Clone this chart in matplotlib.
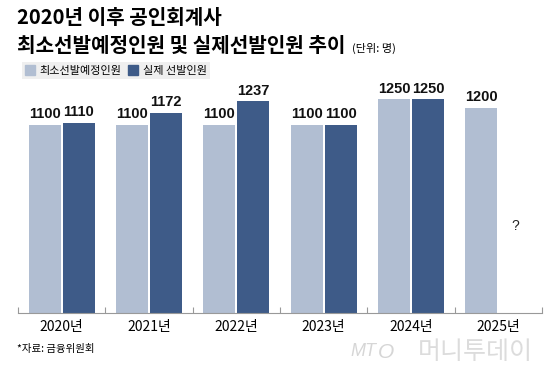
import numpy as np
import matplotlib.pyplot as plt
from matplotlib.patches import Patch

# chart data
years = ["2020년", "2021년", "2022년", "2023년", "2024년", "2025년"]
planned = [1100, 1100, 1100, 1100, 1250, 1200]
actual = [1110, 1172, 1237, 1100, 1250, None]

light = "#b1bed2"
dark = "#3e5b88"
KR = ["Noto Sans CJK KR", "DejaVu Sans"]
NUM = ["Liberation Sans Narrow", "Liberation Sans", "DejaVu Sans"]

plt.rcParams["font.family"] = KR

fig = plt.figure(figsize=(5.6, 3.77), dpi=100)
W, H = 560, 377
# axes placed in pixel terms: left 18, right 542, bottom 313, top 95
ax = fig.add_axes([18 / W, (H - 313) / H, (542 - 18) / W, (313 - 95) / H])

x = np.arange(len(years))
bw = 0.365
off = 0.195
ax.bar(x - off, planned, bw, color=light, label="최소선발예정인원")
xa = [xi + off for xi, v in zip(x, actual) if v is not None]
va = [v for v in actual if v is not None]
ax.bar(xa, va, bw, color=dark, label="실제 선발인원")

# value labels
for xi, v in zip(x, planned):
    ax.text(xi - off, v + 22, str(v), ha="center", va="bottom",
            fontsize=10.5, fontweight="bold", family=NUM, color="#111111")
for xi, v in zip(xa, va):
    ax.text(xi, v + 22, str(v), ha="center", va="bottom",
            fontsize=10.5, fontweight="bold", family=NUM, color="#111111")
# 2025 actual not known yet
ax.text(x[-1] + off, 510, "?", ha="center", va="center", fontsize=10,
        family=NUM, color="#222222")

ax.set_xlim(-0.5, len(years) - 0.5)
ax.set_ylim(0, 1275)
for s in ["top", "right", "left"]:
    ax.spines[s].set_visible(False)
ax.spines["bottom"].set_color("#999999")
ax.spines["bottom"].set_linewidth(0.8)
ax.set_yticks([])
ax.set_xticks(x)
ax.set_xticklabels(years, fontsize=10)
ax.tick_params(axis="x", which="major", length=0, pad=5)
ax.set_xticks(np.arange(-0.5, len(years)), minor=True)
ax.tick_params(axis="x", which="minor", direction="in", length=4,
               color="#999999", width=0.8)

# titles
fig.text(17 / W, 1 - 18 / H, "2020년 이후 공인회계사", fontsize=14.5,
         fontweight="bold", va="center", ha="left")
fig.text(17 / W, 1 - 45 / H, "최소선발예정인원 및 실제선발인원 추이", fontsize=14.5,
         fontweight="bold", va="center", ha="left")
fig.text(352 / W, 1 - 48 / H, "(단위: 명)", fontsize=8, va="center", ha="left")

# legend box
handles = [Patch(color=light, label="최소선발예정인원"),
           Patch(color=dark, label="실제 선발인원")]
fig.legend(handles=handles, loc="upper left", bbox_to_anchor=(22 / W, 1 - 62 / H),
           ncol=2, frameon=True, facecolor="#efefef", edgecolor="none",
           fancybox=False, framealpha=1, fontsize=8, handlelength=0.9,
           handleheight=0.9, columnspacing=0.6, handletextpad=0.4, borderpad=0.3,
           borderaxespad=0)

# source and watermark
fig.text(17 / W, 1 - 349 / H, "*자료: 금융위원회", fontsize=7.5, va="center", ha="left")
fig.text(350 / W, 1 - 352 / H, "MT", fontsize=13, style="italic", family=NUM,
         color="#d6d6d6", va="center", ha="left")
fig.text(378 / W, 1 - 352 / H, "O", fontsize=15, style="italic", family=NUM,
         color="#d6d6d6", va="center", ha="left")
fig.text(418 / W, 1 - 352 / H, "머니투데이", fontsize=18, color="#dcdcdc",
         va="center", ha="left")

fig.savefig("out.png", dpi=100)
